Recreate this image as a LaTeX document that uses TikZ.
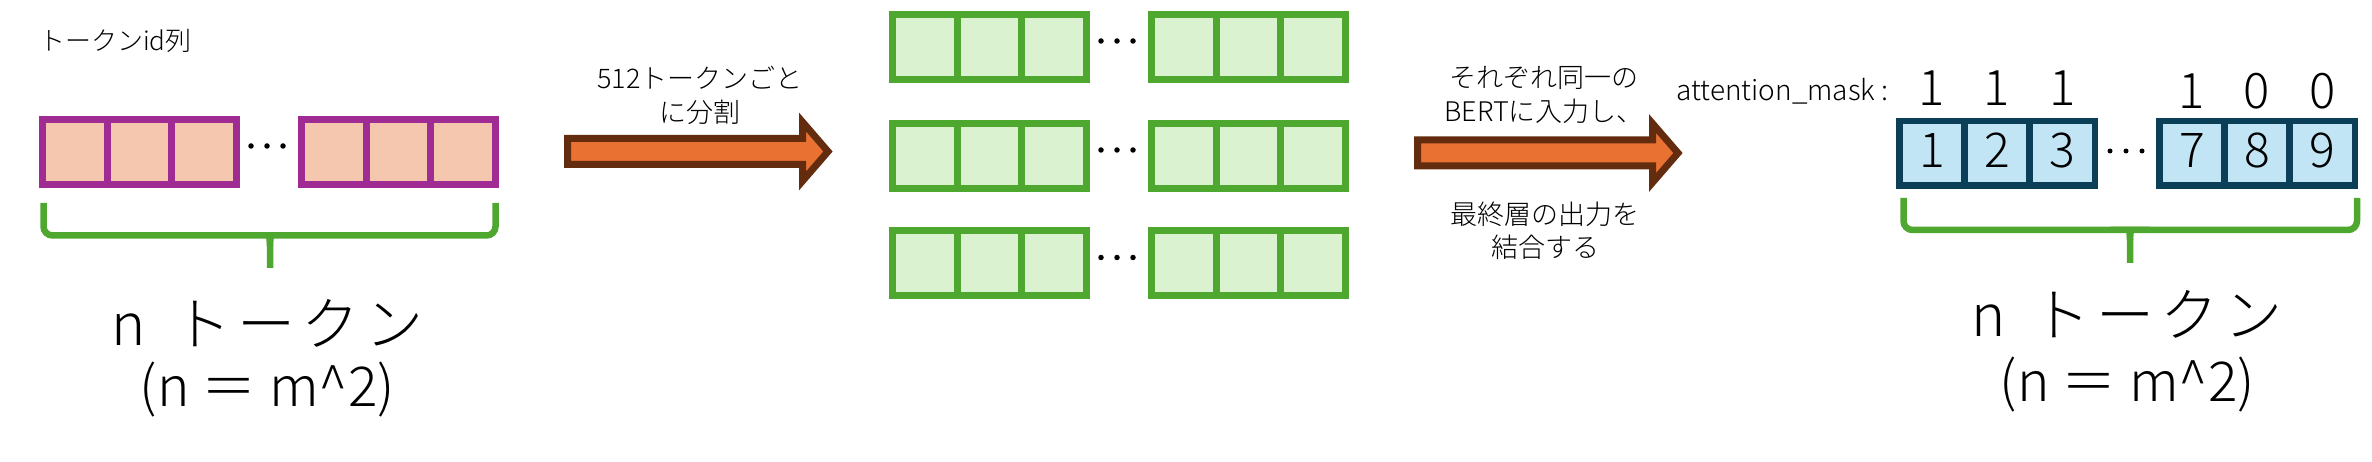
\documentclass[tikz,border=0pt]{standalone}
\usepackage{fontspec}
\IfFontExistsTF{Noto Sans CJK JP Light}{\setmainfont{Noto Sans CJK JP Light}}{\setmainfont{Noto Sans CJK JP}}
\definecolor{pinkfill}{HTML}{F5C7AE}
\definecolor{purpleline}{HTML}{A02B93}
\definecolor{greenfill}{HTML}{DAF2D0}
\definecolor{greenline}{HTML}{4EA72E}
\definecolor{bluefill}{HTML}{C1E5F5}
\definecolor{navyline}{HTML}{0B3F58}
\definecolor{arroworange}{HTML}{E97132}
\definecolor{arrowbrown}{HTML}{632C0F}
\newcommand{\fsz}[1]{\fontsize{#1}{#1}\selectfont}
\newcommand{\bigtok}{n\kern27pt ト\kern6pt ー\kern6pt ク\kern6pt ン}
\begin{document}
\begin{tikzpicture}[x=1pt,y=-1pt,
  txt/.style={inner sep=0pt, outer sep=0pt, align=center},
  pinkcell/.style={draw=purpleline, fill=pinkfill, line width=7pt, minimum width=64.67pt, minimum height=65pt, inner sep=0pt, outer sep=0pt},
  greencell/.style={draw=greenline, fill=greenfill, line width=7pt, minimum width=64.67pt, minimum height=65pt, inner sep=0pt, outer sep=0pt},
  bluecell/.style={draw=navyline, fill=bluefill, line width=6.5pt, minimum width=65.17pt, minimum height=64.5pt, inner sep=0pt, outer sep=0pt, font=\fsz{48}, text height=35pt, text depth=6pt},
  dotn/.style={circle, fill=black, inner sep=0pt, minimum size=5.5pt},
  bracesty/.style={draw=greenline, line width=6.5pt},
  arrowsty/.style={draw=arrowbrown, fill=arroworange, line width=7pt, line join=miter},
  maskdigit/.style={txt, font=\fsz{49}, anchor=base},
  blockarrow/.pic={\draw[arrowsty] (3.5,-13) -- (238.5,-13) -- (238.5,-29.5) -- (264,0) -- (238.5,29.5) -- (238.5,13) -- (3.5,13) -- cycle;}
]
\useasboundingbox (0,0) rectangle (2372,462);

% ---- left: token id sequence ----
\node[txt, font=\fsz{26}] (ids) at (115.5,40.5) {トークンid列};
\foreach \i in {1,2,3} {
  \node[pinkcell] (pa\i) at ({42.5+(\i-0.5)*64.67},152) {};
  \node[pinkcell] (pb\i) at ({301.5+(\i-0.5)*64.67},152) {};
}
\node[dotn] (pd1) at (251,146) {};
\node[dotn] (pd2) at (267,146) {};
\node[dotn] (pd3) at (283,146) {};
\draw[bracesty] (43.5,203) {[rounded corners=9pt] -- (43.5,235.5) -- (262,235.5)} .. controls (268,235.5) and (270,238) .. (270,246) -- (270,268);
\draw[bracesty] (495.5,203) {[rounded corners=9pt] -- (495.5,235.5) -- (278,235.5)} .. controls (272,235.5) and (270,238) .. (270,246);
\node[txt, font=\fsz{58}] (nL) at (267.5,323) {\bigtok};
\node[txt, font=\fsz{55}] (eqL) at (267.5,390) {(n ＝ m\textasciicircum 2)};

% ---- arrow 1 ----
\coordinate (arrowA) at (564,151.5);
\pic at (arrowA) {blockarrow};
\node[txt, font=\fontsize{27}{34}\selectfont] (labA) at (700,95) {512トークンごと\\に分割};

% ---- middle: split chunks ----
\foreach \r/\yy in {1/47,2/156,3/263.5} {
  \foreach \i in {1,2,3} {
    \node[greencell] (g\r-a\i) at ({892.5+(\i-0.5)*64.67},\yy) {};
    \node[greencell] (g\r-b\i) at ({1151.5+(\i-0.5)*64.67},\yy) {};
  }
  \node[dotn] (gd\r-1) at (1101,{\yy-6}) {};
  \node[dotn] (gd\r-2) at (1117,{\yy-6}) {};
  \node[dotn] (gd\r-3) at (1133,{\yy-6}) {};
}

% ---- arrow 2 ----
\coordinate (arrowB) at (1414,153);
\pic at (arrowB) {blockarrow};
\node[txt, font=\fontsize{27}{34}\selectfont] (labB) at (1544,95) {それぞれ同一の\\BERTに入力し、};
\node[txt, font=\fontsize{27}{33}\selectfont] (labC) at (1545,230.5) {最終層の出力を\\結合する};

% ---- right: output with attention mask ----
\node[txt, font=\fsz{28}, anchor=base west] (mask) at (1676.5,101) {attention\_mask :};
\node[bluecell] (b1) at ({1899.25+0.5*65.17},153.5) {1};
\node[bluecell] (b2) at ({1899.25+1.5*65.17},153.5) {2};
\node[bluecell] (b3) at ({1899.25+2.5*65.17},153.5) {3};
\node[bluecell] (b7) at ({2159.25+0.5*65.17},153.5) {7};
\node[bluecell] (b8) at ({2159.25+1.5*65.17},153.5) {8};
\node[bluecell] (b9) at ({2159.25+2.5*65.17},153.5) {9};
\node[dotn, minimum size=5pt] (bd1) at (2110,151) {};
\node[dotn, minimum size=5pt] (bd2) at (2126,151) {};
\node[dotn, minimum size=5pt] (bd3) at (2142,151) {};
\node[maskdigit] (m1) at ([yshift=15.25pt]b1.north) {1};
\node[maskdigit] (m2) at ([yshift=15.25pt]b2.north) {1};
\node[maskdigit] (m3) at ([yshift=15.25pt]b3.north) {1};
\node[maskdigit] (m7) at ([yshift=12.75pt]b7.north) {1};
\node[maskdigit] (m8) at ([yshift=12.75pt]b8.north) {0};
\node[maskdigit] (m9) at ([yshift=12.75pt]b9.north) {0};
\draw[bracesty] (1903.5,198) {[rounded corners=9pt] -- (1903.5,230) -- (2122,230)} .. controls (2128,230) and (2130,232.5) .. (2130,240) -- (2130,263);
\draw[bracesty] (2357,198) {[rounded corners=9pt] -- (2357,230) -- (2138,230)} .. controls (2132,230) and (2130,232.5) .. (2130,240);
\node[txt, font=\fsz{58}] (nR) at (2127,314) {\bigtok};
\node[txt, font=\fsz{55}] (eqR) at (2127.5,385) {(n ＝ m\textasciicircum 2)};
\end{tikzpicture}
\end{document}
